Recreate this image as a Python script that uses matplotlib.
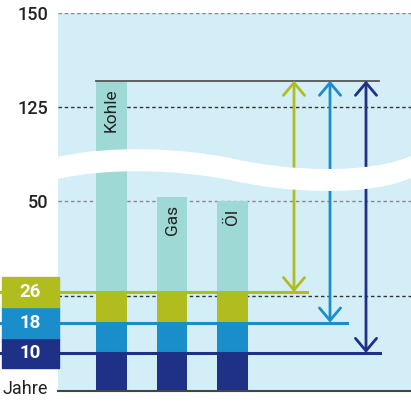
import numpy as np
import matplotlib.pyplot as plt
from matplotlib.patches import Rectangle, PathPatch, ConnectionPatch
from matplotlib.path import Path

plt.rcParams['font.family'] = ['Roboto', 'DejaVu Sans']

# data
resources = ['Kohle', 'Gas', 'Öl']
totals = [132, 51, 50]
jahre = [10, 18, 26]
upper_ticks = [125, 150]
lower_ticks = [50]
grid_vals = [25, 50, 125, 150]

navy = '#1f3187'
blue = '#1a8dcb'
green = '#b1bc1f'
teal = '#9fd9d5'
panel = '#d4eef7'
seg_colors = [navy, blue, green]

W, H = 411, 401
fig = plt.figure(figsize=(W / 100, H / 100), dpi=100)


def fx(px):
    return px / W


def fy(py):
    return 1 - py / H


def xd(px):
    # pixel column -> x data (bar spacing 60.5 px, first bar centre at 111.5 px)
    return (px - 111.5) / 60.5


ax_low = fig.add_axes([fx(58), fy(391), fx(411) - fx(58), fy(165) - fy(391)])
ax_up = fig.add_axes([fx(58), fy(165), fx(411) - fx(58), fy(13) - fy(165)])
ax_low.set_ylim(0, (391 - 165) / 3.8)
ax_up.set_ylim(150 - (165 - 13) / 3.76, 150)

x = np.arange(len(resources))
for ax in (ax_low, ax_up):
    ax.set_facecolor(panel)
    ax.set_xlim(xd(58), xd(411))
    ax.set_xticks([])
    for s in ax.spines.values():
        s.set_visible(False)
    ax.tick_params(axis='y', length=0, pad=7, labelsize=13, labelcolor='#222222')
    for g in grid_vals:
        c = '#333333' if g in (25, 125) else '#888888'
        ax.axhline(g, color=c, lw=1, ls=(0, (2.5, 2)), zorder=1)
    # stacked bars
    bottom = 0
    for top, col in zip(jahre, seg_colors):
        ax.bar(x, top - bottom, bottom=bottom, width=0.51, color=col, zorder=2)
        bottom = top
    ax.bar(x, np.array(totals) - jahre[-1], bottom=jahre[-1], width=0.51, color=teal, zorder=2)

ax_low.set_yticks(lower_ticks)
ax_up.set_yticks(upper_ticks)
for ax in (ax_low, ax_up):
    for lab in ax.get_yticklabels():
        lab.set_fontweight('medium')
ax_low.spines['bottom'].set_visible(True)
ax_low.spines['bottom'].set_color('#444444')
ax_low.spines['bottom'].set_linewidth(1.5)

# bar labels
for i, name in enumerate(resources):
    ax = ax_up if totals[i] > 100 else ax_low
    ax.text(i, totals[i] - 2.1, name, rotation=90, ha='center', va='top',
            fontsize=12.5, color='#222222', zorder=3)

# top reference line for Kohle
ax_up.plot([xd(96), xd(379)], [totals[0], totals[0]], color='#555555', lw=1.3, zorder=3)

# horizontal year lines, boxes and arrows
line_ends = [380, 347, 307]
arrow_x = [366, 330, 294]
for val, col, xe, xa in zip(jahre, seg_colors, line_ends, arrow_x):
    ax_low.plot([xd(0), xd(xe)], [val, val], color=col, lw=2.2, zorder=4, clip_on=False)
    ax_low.add_patch(Rectangle((xd(2), val - 4), xd(59) - xd(2), 8, color=col,
                               clip_on=False, zorder=5))
    ax_low.text((xd(2) + xd(59)) / 2, val, str(val), ha='center', va='center',
                color='white', fontsize=13.5, fontweight='bold', zorder=6, clip_on=False)
    con = ConnectionPatch(xyA=(xd(xa), val), coordsA='data', axesA=ax_low,
                          xyB=(xd(xa), totals[0]), coordsB='data', axesB=ax_up,
                          arrowstyle='<->,head_length=0.45,head_width=0.38',
                          mutation_scale=20, color=col, lw=2, zorder=4)
    fig.add_artist(con)

ax_low.text(xd(2), 0.6, 'Jahre', ha='left', va='center', fontsize=13,
            color='#222222', clip_on=False)

# white wavy break band
top_pts = [(58, 157), (110, 145), (180, 148), (230, 158),
           (290, 172), (370, 174), (411, 156)]
bot_pts = [(p[0], p[1] + 22) for p in top_pts]
verts = [(fx(px), fy(py)) for px, py in top_pts]
verts += [(fx(px), fy(py)) for px, py in reversed(bot_pts)]
verts.append(verts[0])
codes = [Path.MOVETO] + [Path.CURVE4] * 6 + [Path.LINETO] + [Path.CURVE4] * 6 + [Path.CLOSEPOLY]
band = PathPatch(Path(verts, codes), facecolor='white', edgecolor='none',
                 transform=fig.transFigure, zorder=10)
fig.add_artist(band)

fig.savefig('out.png', dpi=100)
